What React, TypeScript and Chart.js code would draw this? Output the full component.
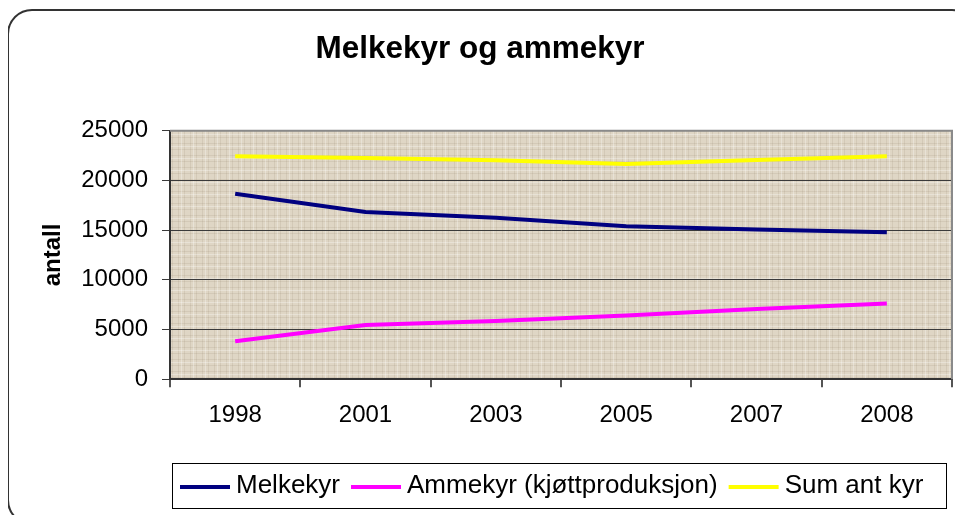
import React, { useEffect, useRef } from "react";
import { Chart, registerables } from "chart.js";

Chart.register(...registerables);

const years = ["1998", "2001", "2003", "2005", "2007", "2008"];
const melkekyr = [18670, 16830, 16250, 15400, 15070, 14800];
const ammekyr = [3830, 5450, 5850, 6400, 7070, 7630];
const sumKyr = [22430, 22270, 22030, 21670, 22070, 22430];
const seriesLabels = ["Melkekyr", "Ammekyr (kjøttproduksjon)", "Sum ant kyr"];
const yTicks = [0, 5000, 10000, 15000, 20000, 25000];
const chartTitle = "Melkekyr og ammekyr";
const yTitle = "antall";

const FONT = '"Liberation Sans", Arial, sans-serif';

function makePattern(ctx: CanvasRenderingContext2D) {
  const c = document.createElement("canvas");
  c.width = 12;
  c.height = 12;
  const g = c.getContext("2d")!;
  g.fillStyle = "#DFD6C5";
  g.fillRect(0, 0, 12, 12);
  g.fillStyle = "rgba(150,135,110,0.16)";
  g.fillRect(0, 3, 12, 1);
  g.fillRect(0, 9, 12, 1);
  g.fillRect(2, 0, 1, 12);
  g.fillRect(8, 0, 1, 12);
  g.fillStyle = "rgba(255,255,255,0.3)";
  g.fillRect(5, 0, 1, 12);
  g.fillRect(0, 6, 12, 1);
  return ctx.createPattern(c, "repeat");
}

const plotBg = {
  id: "plotBg",
  beforeDraw(chart: any) {
    const { ctx, chartArea: a } = chart;
    ctx.save();
    ctx.fillStyle = makePattern(ctx);
    ctx.fillRect(a.left, a.top, a.right - a.left, a.bottom - a.top);
    ctx.restore();
  },
  beforeDatasetsDraw(chart: any) {
    const { ctx, chartArea: a } = chart;
    ctx.save();
    ctx.strokeStyle = "#8a8a8a";
    ctx.lineWidth = 2;
    ctx.beginPath();
    ctx.moveTo(a.left, a.top);
    ctx.lineTo(a.right, a.top);
    ctx.lineTo(a.right, a.bottom);
    ctx.stroke();
    ctx.restore();
  },
};

const boxLegend = {
  id: "boxLegend",
  afterDraw(chart: any) {
    const ctx = chart.ctx;
    const L = 164, T = 455, R = 938, B = 500;
    ctx.save();
    ctx.strokeStyle = "#000";
    ctx.lineWidth = 1;
    ctx.strokeRect(L + 0.5, T + 0.5, R - L, B - T);
    ctx.font = `26px ${FONT}`;
    ctx.textBaseline = "middle";
    ctx.textAlign = "left";
    let x = L + 8;
    const y = (T + B) / 2;
    chart.data.datasets.forEach((ds: any) => {
      ctx.strokeStyle = ds.borderColor;
      ctx.lineWidth = 4;
      ctx.beginPath();
      ctx.moveTo(x, y + 1.5);
      ctx.lineTo(x + 50, y + 1.5);
      ctx.stroke();
      x += 56;
      ctx.fillStyle = "#000";
      ctx.fillText(ds.label, x, y);
      x += ctx.measureText(ds.label).width + 11;
    });
    ctx.restore();
  },
};

export default function App() {
  const ref = useRef<HTMLCanvasElement>(null);

  useEffect(() => {
    document.documentElement.style.overflow = "hidden";
    if (!ref.current) return;
    const chart = new Chart(ref.current, {
      type: "line",
      data: {
        labels: years,
        datasets: [
          { label: seriesLabels[0], data: melkekyr, borderColor: "#000080", backgroundColor: "#000080" },
          { label: seriesLabels[1], data: ammekyr, borderColor: "#FF00FF", backgroundColor: "#FF00FF" },
          { label: seriesLabels[2], data: sumKyr, borderColor: "#FFFF00", backgroundColor: "#FFFF00" },
        ].map((d) => ({ ...d, borderWidth: 4, pointRadius: 0, tension: 0, fill: false })),
      },
      options: {
        responsive: false,
        animation: false,
        devicePixelRatio: 1,
        layout: { padding: { left: 0, right: 11, top: 0, bottom: 71 } },
        plugins: {
          legend: { display: false },
          tooltip: { enabled: false },
          title: {
            display: true,
            text: chartTitle,
            color: "#000",
            font: { family: FONT, size: 31.5, weight: "bold" },
            padding: { top: 22, bottom: 63 },
          },
        },
        scales: {
          x: {
            type: "category",
            offset: true,
            grid: {
              offset: true,
              drawOnChartArea: false,
              drawTicks: true,
              tickLength: 8,
              color: "#555",
              lineWidth: 2,
            },
            border: { display: true, color: "#333", width: 2 },
            ticks: { color: "#000", font: { family: FONT, size: 24 }, padding: 14, maxRotation: 0 },
          },
          y: {
            min: yTicks[0],
            max: yTicks[yTicks.length - 1],
            afterFit: (s: any) => {
              s.width = 162;
            },
            afterBuildTicks: (s: any) => {
              s.ticks = yTicks.map((v) => ({ value: v }));
            },
            grid: {
              color: "#3a3a3a",
              lineWidth: 1,
              tickLength: 8,
            },
            border: { display: true, color: "#333", width: 2 },
            ticks: {
              color: "#000",
              font: { family: FONT, size: 24 },
              padding: 14,
              callback: (v: any) => String(v),
            },
            title: {
              display: true,
              text: yTitle,
              color: "#000",
              font: { family: FONT, size: 24, weight: "bold" },
              padding: { top: 31, bottom: 0 },
            },
          },
        },
      },
      plugins: [plotBg, boxLegend],
    } as any);
    return () => chart.destroy();
  }, []);

  return (
    <div style={{ position: "relative", width: 955, height: 507, overflow: "hidden" }}>
      <div
        style={{
          position: "absolute",
          left: -1,
          top: 1,
          width: 966,
          height: 512,
          border: "2px solid #333",
          borderRadius: 25,
          background: "#fff",
        }}
      />
      <canvas
        ref={ref}
        width={955}
        height={507}
        style={{ position: "absolute", left: 0, top: 0, width: 955, height: 507 }}
      />
    </div>
  );
}
